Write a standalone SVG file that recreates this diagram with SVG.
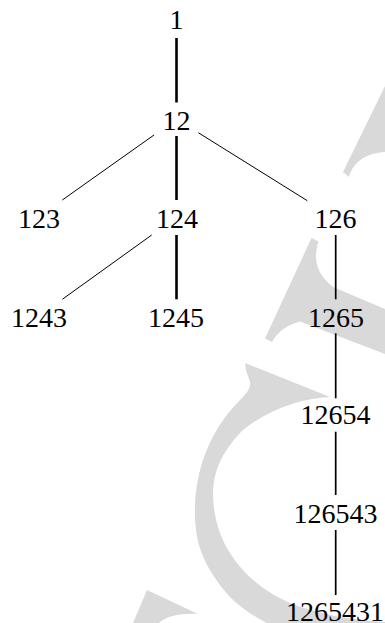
<svg xmlns="http://www.w3.org/2000/svg" width="385" height="623" viewBox="0 0 385 623">
  <style>
    .wm { fill: #d9d9d9; stroke: none; }
    .lbl { font-family: "Liberation Serif", "DejaVu Serif", serif; font-size: 28px; fill: #000; text-anchor: middle; }
    .thick { stroke: #000; stroke-width: 2.6; fill: none; }
    .mid { stroke: #000; stroke-width: 1.7; fill: none; }
    .thin { stroke: #000; stroke-width: 1; fill: none; }
  </style>
  <rect width="385" height="623" fill="#fff"/>

  <!-- background letterform fragments -->
  <g id="backdrop">
    <path class="wm" d="M343,172 L385,86 L385,152 C366,153 353,162 349,177 Z"/>
    <path class="wm" d="M311.5,238 L318.5,241.5 C314,256 314,272 333,287 L385,309 L385,354 L300,321.5 C289,324 278,331 272,342 L265,338.5 Z"/>
    <path class="wm" d="M245,363 L330,397 C300,398 262,412 240,433 C222,452 213,472 213,493 C213,515 219,536 230,553 C243,574 264,592 290,603 C318,614 350,620 385,622 L385,623 L267,623 C253,616 240,607 230,597 C213,578 199,556 196,530 C193,505 196,482 203,460 C211,436 224,416 240,400 C247,393 251,388 250,382 L246,370 Z"/>
    <path class="wm" d="M147,590 L198,614 C182,613 166,616 159,623 L133,623 Z"/>
  </g>

  <!-- tree edges -->
  <g id="edges">
    <line class="thick" x1="176.5" y1="38" x2="176.5" y2="102.5"/>
    <line class="thin" x1="154" y1="135" x2="62.3" y2="200"/>
    <line class="thick" x1="176.5" y1="136" x2="176.5" y2="200"/>
    <line class="thin" x1="198.3" y1="132.7" x2="307.3" y2="200.7"/>
    <line class="thin" x1="151.7" y1="235" x2="62.3" y2="299.3"/>
    <line class="thick" x1="176.5" y1="235" x2="176.5" y2="299.3"/>
    <line class="mid" x1="335.7" y1="235" x2="335.7" y2="299.3"/>
    <line class="mid" x1="335.7" y1="333.3" x2="335.7" y2="398.3"/>
    <line class="mid" x1="335.7" y1="431.7" x2="335.7" y2="495"/>
    <line class="mid" x1="335.7" y1="530" x2="335.7" y2="595"/>
  </g>

  <g id="n1"><text class="lbl" x="176.5" y="29">1</text></g>
  <g id="n12"><text class="lbl" x="176.5" y="130">12</text></g>
  <g id="n123"><text class="lbl" x="39" y="228">123</text></g>
  <g id="n124"><text class="lbl" x="177" y="228">124</text></g>
  <g id="n126"><text class="lbl" x="335.5" y="228">126</text></g>
  <g id="n1243"><text class="lbl" x="39" y="327">1243</text></g>
  <g id="n1245"><text class="lbl" x="176" y="327">1245</text></g>
  <g id="n1265"><text class="lbl" x="336" y="327">1265</text></g>
  <g id="n12654"><text class="lbl" x="335.5" y="424">12654</text></g>
  <g id="n126543"><text class="lbl" x="335.5" y="523">126543</text></g>
  <g id="n1265431"><text class="lbl" x="335" y="621">1265431</text></g>
</svg>
